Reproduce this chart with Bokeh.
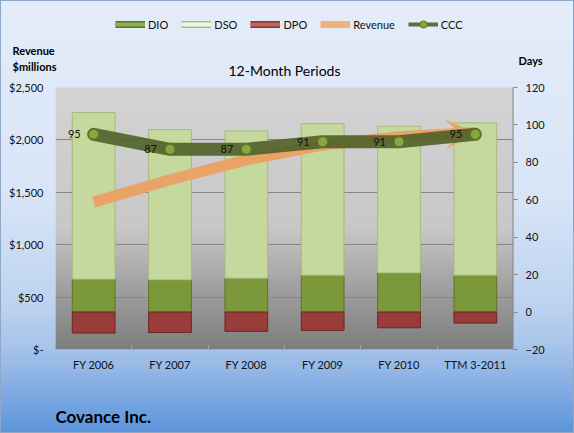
import numpy as np
from bokeh.plotting import figure
from bokeh.models import (ColumnDataSource, Range1d, LinearAxis, FixedTicker, NumeralTickFormatter,
                          Legend, LegendItem, Label, LabelSet, Arrow, VeeHead)
from bokeh.embed import file_html
from bokeh.resources import INLINE
from bokeh.core.properties import value

# ---------------- data ----------------
periods = ["FY 2006", "FY 2007", "FY 2008", "FY 2009", "FY 2010", "TTM 3-2011"]
dio = [17.6, 17.2, 18.1, 19.7, 20.9, 19.7]
dso = [89.0, 80.3, 78.7, 81.0, 78.4, 81.4]
dpo = [-11.2, -10.9, -10.3, -9.8, -8.4, -5.9]
ccc = [95, 87, 87, 91, 91, 95]
revenue = [1406, 1620, 1810, 1950, 2030, 2070]
rev_ticks = [0, 500, 1000, 1500, 2000, 2500]
day_ticks = [-20, 0, 20, 40, 60, 80, 100, 120]

xs = list(range(len(periods)))
src = ColumnDataSource(dict(x=xs, dio=dio, dso=dso, dpo=dpo, ccc=ccc, revenue=revenue,
                            ccc_label=[str(v) for v in ccc]))

FONT = "Lato"

# layout: frame spans y 14..349; the plot area (0..2500 / -20..120) occupies y 87..349
FRAME_TOP, AREA_TOP, FRAME_BOTTOM = 14, 87, 349
ext = (FRAME_BOTTOM - FRAME_TOP) / (FRAME_BOTTOM - AREA_TOP)
rev_lo, rev_hi = rev_ticks[0], rev_ticks[-1]
day_lo, day_hi = day_ticks[0], day_ticks[-1]
x_lo, x_hi = -0.5, len(periods) - 0.5

p = figure(width=574, height=433, output_backend="svg", toolbar_location=None,
           x_range=Range1d(x_lo, x_hi),
           y_range=Range1d(rev_lo, rev_lo + (rev_hi - rev_lo) * ext),
           min_border_left=55, min_border_right=61, min_border_top=FRAME_TOP,
           min_border_bottom=433 - FRAME_BOTTOM)
p.extra_y_ranges = {"days": Range1d(day_lo, day_lo + (day_hi - day_lo) * ext)}
p.outline_line_color = None
p.border_fill_alpha = 0
p.background_fill_alpha = 0
p.styles = {
    "background": "linear-gradient(to bottom, #e4ecf9 0%, #d8e5f7 45%, #bdd3f0 70%, "
                  "#a7c4ea 80%, #8ab1e4 88%, #5a94db 100%)",
    "box-shadow": "inset 0 0 0 1px #8fa8c8",
}

# plot-area gradient (style only)
n = 262
t = np.linspace(1.0, 0.0, n)  # row 0 = bottom
g = np.interp(t, [0.0, 0.54, 0.756, 1.0], [212, 200, 162, 126]).astype(np.uint8)
img = np.zeros((n, 1, 4), dtype=np.uint8)
img[:, 0, 0] = g
img[:, 0, 1] = g
img[:, 0, 2] = g
img[:, 0, 3] = 255
p.image_rgba(image=[img.view(np.uint32).reshape(n, 1)], x=x_lo, y=rev_lo,
             dw=x_hi - x_lo, dh=rev_hi - rev_lo, level="image")

# axes
p.xaxis.ticker = FixedTicker(ticks=xs, minor_ticks=[i - 0.5 for i in range(len(xs) + 1)])
p.xaxis.major_label_overrides = {i: lab for i, lab in enumerate(periods)}
p.xaxis.axis_line_color = None
p.xaxis.major_tick_line_color = None
p.xaxis.major_tick_out = 0
p.xaxis.major_tick_in = 0
p.xaxis.minor_tick_in = 4
p.xaxis.minor_tick_out = 0
p.xaxis.minor_tick_line_color = "#a8a8a8"
p.xaxis.major_label_standoff = 8

p.yaxis.ticker = FixedTicker(ticks=rev_ticks)
p.yaxis.formatter = NumeralTickFormatter(format="$0,0")
p.yaxis.major_label_overrides = {0: "$-"}
p.yaxis.axis_line_color = None
p.yaxis.major_tick_line_color = None
p.yaxis.major_tick_out = 0
p.yaxis.minor_tick_line_color = None
p.yaxis.major_label_standoff = 12

ax_r = LinearAxis(y_range_name="days", ticker=FixedTicker(ticks=day_ticks),
                  axis_line_color=None, major_tick_out=4, major_tick_in=0,
                  major_tick_line_color="#868686", minor_tick_line_color=None,
                  major_label_standoff=8)
p.add_layout(ax_r, "right")

for ax in [p.xaxis[0], p.yaxis[0], ax_r]:
    ax.major_label_text_font = FONT
    ax.major_label_text_font_size = "11px"
    ax.major_label_text_color = "#111111"

p.xgrid.visible = False
p.ygrid.ticker = FixedTicker(ticks=rev_ticks[1:-1])
p.ygrid.grid_line_color = "#868686"

# right-hand axis line limited to the days range
p.segment(x0=[x_hi], y0=[day_lo], x1=[x_hi], y1=[day_hi], y_range_name="days",
          line_color="#868686", line_width=2)

# bars (days axis)
p.vbar_stack(["dio", "dso"], x="x", width=0.56, source=src, y_range_name="days",
             fill_color=["#7b983a", "#c5d89e"], line_color=["#5c7424", "#a6bb7a"])
p.vbar(x="x", bottom="dpo", top=0, width=0.56, source=src, y_range_name="days",
       fill_color="#9a3c3a", line_color="#6e2625")

# revenue line with arrow head
p.line("x", "revenue", source=src, line_color="#eaa367", line_width=11, line_cap="butt")
p.add_layout(Arrow(end=VeeHead(size=30, fill_color="#eaa367", line_color=None),
                   x_start=xs[-2], y_start=revenue[-2], x_end=xs[-1], y_end=revenue[-1],
                   line_color=None))

# CCC line + markers + labels
p.line("x", "ccc", source=src, y_range_name="days", line_color="#4f6228", line_alpha=0.9,
       line_width=13, line_cap="round", line_join="round", level="overlay")
p.scatter("x", "ccc", source=src, y_range_name="days", size=10, fill_color="#86a83e",
          line_color="#5a7523", level="overlay")
p.add_layout(LabelSet(x="x", y="ccc", text="ccc_label", source=src, y_range_name="days",
                      x_offset=-13, text_align="right", text_baseline="middle",
                      text_font=value(FONT), text_font_size="11px", text_color="#111111",
                      level="overlay"))

# legend (inside the frame's upper strip) built from proxies that draw nothing on the plot
nan_src = ColumnDataSource(dict(x=np.array([np.nan]), y=np.array([np.nan])))
def pl(color, width):
    return p.line("x", "y", source=nan_src, line_color=color, line_width=width)

items = [
    LegendItem(label="DIO", renderers=[pl("#5c7424", 7), pl("#8db04a", 4)]),
    LegendItem(label="DSO", renderers=[pl("#a8bb80", 7), pl("#f1f6e4", 4)]),
    LegendItem(label="DPO", renderers=[pl("#8a3535", 7), pl("#c4625f", 4)]),
    LegendItem(label="Revenue", renderers=[pl("#f2b07c", 7)]),
    LegendItem(label="CCC", renderers=[pl("#5a7030", 4),
               p.scatter("x", "y", source=nan_src, marker="circle", fill_color="#86a83e",
                         line_color="#5a7523")]),
]
legend = Legend(items=items, orientation="horizontal", location=(115 - 55, FRAME_BOTTOM - 33),
                glyph_width=30, glyph_height=18, label_height=18, label_standoff=3, spacing=13,
                padding=0, margin=0, border_line_color=None, background_fill_alpha=0,
                label_text_font=FONT, label_text_font_size="11px", label_text_color="#111111")
p.add_layout(legend)

# texts in canvas coordinates (x from left, y from top)
def mk(text, x, y, size, bold=False, align="left"):
    return Label(x=x, y=y, x_units="canvas", y_units="canvas", text=text,
                 text_font=FONT, text_font_size=size, text_align=align,
                 text_baseline="middle", text_color="#000000",
                 text_font_style="bold" if bold else "normal")

p.add_layout(mk("12-Month Periods", 284, 70, "14px", align="center"))
p.add_layout(mk("Days", 518, 60, "11px", bold=True), "above")
p.add_layout(mk("Covance Inc.", 55, 416, "17px", bold=True), "below")
p.add_layout(mk("Revenue", 12, 50, "11px", bold=True), "below")
p.add_layout(mk("$millions", 12, 66, "11px", bold=True), "below")

open("out.html", "w").write(file_html(p, INLINE))
